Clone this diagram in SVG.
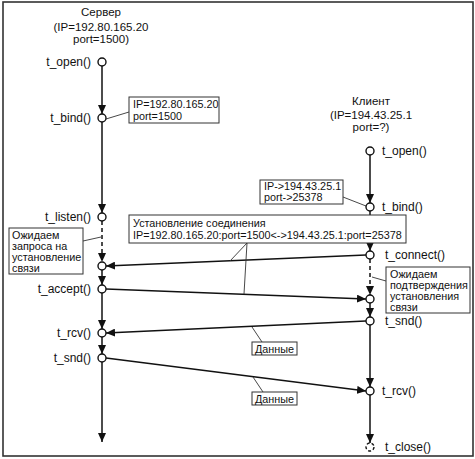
<svg xmlns="http://www.w3.org/2000/svg" width="475" height="459" viewBox="0 0 475 459">
<defs>
<marker id="arr" markerUnits="userSpaceOnUse" markerWidth="9" markerHeight="8" refX="9" refY="4" orient="auto">
<path d="M0,0 L9,4 L0,8 z" fill="#111"/>
</marker>
<style>
text{font-family:"Liberation Sans",Arial,sans-serif;font-size:11.5px;fill:#111}
.lbl{font-size:12px}
.note{font-size:10.8px}
.r{text-anchor:end}
.c{text-anchor:middle}
.box{fill:#fff;stroke:#333;stroke-width:1}
.lead{stroke:#333;stroke-width:0.9;fill:none}
.tl{stroke:#111;stroke-width:1.5;fill:none}
.dash{stroke-dasharray:4,3}
.msg{stroke:#111;stroke-width:1.4;fill:none}
.pt{fill:#fff;stroke:#111;stroke-width:1.4}
</style>
</defs>
<rect x="3" y="2" width="470" height="454" fill="#fff" stroke="#333" stroke-width="1.6"/>

<g id="server-header">
<text class="c" x="101" y="16">Сервер</text>
<text class="c" x="101" y="31">(IP=192.80.165.20</text>
<text class="c" x="101" y="43">port=1500)</text>
</g>
<g id="client-header">
<text class="c" x="371" y="105">Клиент</text>
<text class="c" x="371" y="119">(IP=194.43.25.1</text>
<text class="c" x="371" y="131">port=?)</text>
</g>

<g id="connectors">
<line class="tl" x1="102" y1="66" x2="102" y2="114" marker-end="url(#arr)"/>
<line class="tl" x1="102" y1="122" x2="102" y2="213" marker-end="url(#arr)"/>
<line class="tl dash" x1="102" y1="221" x2="102" y2="262" marker-end="url(#arr)"/>
<line class="tl" x1="102" y1="270" x2="102" y2="285" marker-end="url(#arr)"/>
<line class="tl" x1="102" y1="293" x2="102" y2="329" marker-end="url(#arr)"/>
<line class="tl" x1="102" y1="337" x2="102" y2="354" marker-end="url(#arr)"/>
<line class="tl" x1="102" y1="362" x2="102" y2="442" marker-end="url(#arr)"/>
<line class="tl" x1="370" y1="155" x2="370" y2="203" marker-end="url(#arr)"/>
<line class="tl" x1="370" y1="211" x2="370" y2="251" marker-end="url(#arr)"/>
<line class="tl dash" x1="370" y1="259" x2="370" y2="295" marker-end="url(#arr)"/>
<line class="tl" x1="370" y1="303" x2="370" y2="317" marker-end="url(#arr)"/>
<line class="tl" x1="370" y1="325" x2="370" y2="387" marker-end="url(#arr)"/>
<line class="tl" x1="370" y1="395" x2="370" y2="443" marker-end="url(#arr)"/>
<line class="msg" x1="366" y1="255" x2="106" y2="266" marker-end="url(#arr)"/>
<line class="msg" x1="106" y1="289" x2="366" y2="299" marker-end="url(#arr)"/>
<line class="msg" x1="366" y1="321" x2="106" y2="333" marker-end="url(#arr)"/>
<line class="msg" x1="106" y1="358" x2="366" y2="391" marker-end="url(#arr)"/>
<line class="lead" x1="129" y1="112" x2="106" y2="119"/>
<line class="lead" x1="343" y1="197" x2="366" y2="206"/>
<line class="lead" x1="83" y1="241" x2="101" y2="237"/>
<line class="lead" x1="386" y1="281" x2="372" y2="277"/>
<line class="lead" x1="247" y1="243" x2="230" y2="261"/>
<line class="lead" x1="247" y1="243" x2="244" y2="294"/>
<line class="lead" x1="252" y1="327" x2="262" y2="342"/>
<line class="lead" x1="253" y1="377" x2="263" y2="392"/>
</g>

<g id="s-open"><circle class="pt" cx="102" cy="62" r="4"/><text class="lbl r" x="91" y="66">t_open()</text></g>
<g id="s-bind"><circle class="pt" cx="102" cy="118" r="4"/><text class="lbl r" x="91" y="122">t_bind()</text></g>
<g id="s-listen"><circle class="pt" cx="102" cy="217" r="4"/><text class="lbl r" x="91" y="221">t_listen()</text></g>
<g id="s-wait"><circle class="pt" cx="102" cy="266" r="4"/></g>
<g id="s-accept"><circle class="pt" cx="102" cy="289" r="4"/><text class="lbl r" x="91" y="293">t_accept()</text></g>
<g id="s-rcv"><circle class="pt" cx="102" cy="333" r="4"/><text class="lbl r" x="91" y="337">t_rcv()</text></g>
<g id="s-snd"><circle class="pt" cx="102" cy="358" r="4"/><text class="lbl r" x="91" y="362">t_snd()</text></g>

<g id="c-open"><circle class="pt" cx="370" cy="151" r="4"/><text class="lbl" x="382" y="155">t_open()</text></g>
<g id="c-bind"><circle class="pt" cx="370" cy="207" r="4"/><text class="lbl" x="382" y="211">t_bind()</text></g>
<g id="c-connect"><circle class="pt" cx="370" cy="255" r="4"/><text class="lbl" x="385" y="259">t_connect()</text></g>
<g id="c-wait"><circle class="pt" cx="370" cy="299" r="4"/></g>
<g id="c-snd"><circle class="pt" cx="370" cy="321" r="4"/><text class="lbl" x="385" y="325">t_snd()</text></g>
<g id="c-rcv"><circle class="pt" cx="370" cy="391" r="4"/><text class="lbl" x="382" y="395">t_rcv()</text></g>
<g id="c-close"><circle class="pt" cx="370" cy="447" r="4" stroke-dasharray="3,2"/><text class="lbl" x="385" y="451">t_close()</text></g>

<g id="note-server-ip">
<rect class="box" x="129" y="97" width="90" height="26"/>
<text class="note" x="133" y="108">IP=192.80.165.20</text>
<text class="note" x="133" y="120">port=1500</text>
</g>
<g id="note-client-ip">
<rect class="box" x="260" y="180" width="83" height="24"/>
<text class="note" x="264" y="190">IP-&gt;194.43.25.1</text>
<text class="note" x="264" y="201">port-&gt;25378</text>
</g>
<g id="note-conn">
<rect class="box" x="129" y="215" width="277" height="28"/>
<text class="note" x="133" y="227">Установление соединения</text>
<text class="note" x="133" y="239">IP=192.80.165.20:port=1500&lt;-&gt;194.43.25.1:port=25378</text>
</g>
<g id="note-wait-server">
<rect class="box" x="9" y="228" width="74" height="46"/>
<text class="note" x="12" y="239">Ожидаем</text>
<text class="note" x="12" y="250">запроса на</text>
<text class="note" x="12" y="261">установление</text>
<text class="note" x="12" y="272">связи</text>
</g>
<g id="note-wait-client">
<rect class="box" x="386" y="267" width="84" height="46"/>
<text class="note" x="390" y="278">Ожидаем</text>
<text class="note" x="390" y="289">подтверждения</text>
<text class="note" x="390" y="300">установления</text>
<text class="note" x="390" y="311">связи</text>
</g>
<g id="note-data1">
<rect class="box" x="252" y="342" width="45" height="13"/>
<text class="note" x="255" y="353">Данные</text>
</g>
<g id="note-data2">
<rect class="box" x="252" y="392" width="45" height="13"/>
<text class="note" x="255" y="403">Данные</text>
</g>
</svg>
